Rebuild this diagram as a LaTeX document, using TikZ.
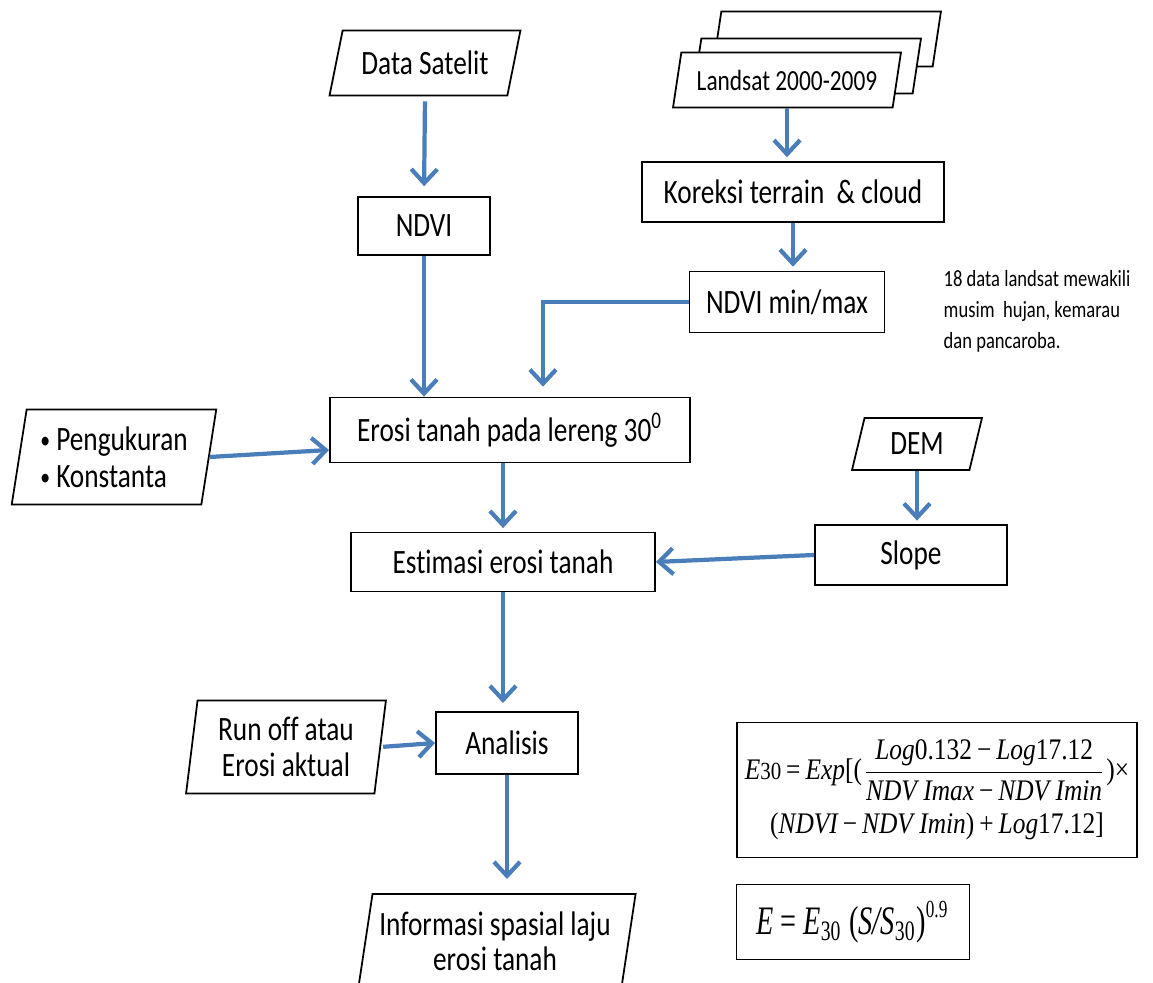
\documentclass[tikz,border=0pt]{standalone}
\usepackage{fontspec}
\setmainfont[FakeStretch=0.8,Ligatures=NoCommon]{Carlito}
\newfontfamily\formfont[FakeStretch=0.85]{Liberation Serif}
\newfontfamily\formfontb[FakeStretch=0.7]{Liberation Serif}
\usetikzlibrary{shapes.geometric,arrows.meta,calc}

\definecolor{flowblue}{RGB}{74,126,187}
\newcommand{\fit}[1]{\mbox{\formfont\itshape #1}}
\newcommand{\fup}[1]{\mbox{\formfont #1}}
\newcommand{\fbit}[1]{\mbox{\formfontb\itshape #1}}
\newcommand{\fbup}[1]{\mbox{\formfontb #1}}
\newcommand{\smallbullet}{\raisebox{0.12ex}{\fontsize{7pt}{7pt}\selectfont\textbullet}}

\tikzset{
  box/.style={draw, rectangle, line width=0.5pt, fill=white, inner sep=0pt},
  io/.style={draw, trapezium, trapezium stretches=true, line width=0.5pt,
    fill=white, inner sep=1pt, align=center},
  flow/.style={draw=flowblue, line width=1.2pt,
    -{Straight Barb[length=1.4mm,width=2.6mm]}},
}

\begin{document}
\begin{tikzpicture}[x=0.01cm, y=-0.01cm, font=\fontsize{9.7pt}{10pt}\selectfont]
  \clip (0,0) rectangle (1153,983);
  \fill[white] (0,0) rectangle (1153,983);

  % Nodes
  \node[io, trapezium left angle=71, trapezium right angle=109,
    minimum width=1.91cm, minimum height=0.65cm] (sat) at (425,63) {Data Satelit};
  \node[box, minimum width=1.32cm, minimum height=0.58cm] (ndvi) at (424,226) {NDVI};

  \node[io, trapezium left angle=75, trapezium right angle=105,
    minimum width=2.29cm, minimum height=0.55cm,
    font=\fontsize{8.3pt}{9pt}\selectfont] (land3) at (827,39) {\phantom{Landsat 2000-2009}};
  \node[io, trapezium left angle=75, trapezium right angle=105,
    minimum width=2.29cm, minimum height=0.55cm,
    font=\fontsize{8.3pt}{9pt}\selectfont] (land2) at (807,66) {\phantom{Landsat 2000-2009}};
  \node[io, trapezium left angle=75, trapezium right angle=105,
    minimum width=2.29cm, minimum height=0.55cm,
    font=\fontsize{8.3pt}{9pt}\selectfont] (land) at (787,80) {Landsat 2000-2009};
  \node[box, minimum width=3.02cm, minimum height=0.60cm] (kor) at (793,192) {Koreksi terrain \ \& cloud};
  \node[box, minimum width=1.95cm, minimum height=0.61cm] (ndvimm) at (787,302) {NDVI min/max};
  \node[anchor=west, align=left, inner sep=0pt, font=\fontsize{6.6pt}{8.8pt}\selectfont] (note) at (943,311)
    {18 data landsat mewakili\\musim \ hujan, kemarau\\dan pancaroba.};

  \node[box, minimum width=3.60cm, minimum height=0.65cm] (erosi) at (510,430) {Erosi tanah pada lereng 30\textsuperscript{0}};
  \node[io, align=left, trapezium left angle=79, trapezium right angle=101,
    minimum width=2.05cm, minimum height=0.95cm] (ukur) at (114,457)
    {\smallbullet\ Pengukuran\\[0.5pt]\smallbullet\ Konstanta};

  \node[io, trapezium left angle=76, trapezium right angle=104,
    minimum width=1.30cm, minimum height=0.52cm] (dem) at (917,444) {DEM};
  \node[box, minimum width=1.92cm, minimum height=0.60cm] (slope) at (911,555) {Slope};
  \node[box, minimum width=3.04cm, minimum height=0.59cm] (est) at (503,562) {Estimasi erosi tanah};

  \node[io, trapezium left angle=82, trapezium right angle=98,
    minimum width=2.00cm, minimum height=0.93cm] (run) at (286,747) {Run off atau\\Erosi aktual};
  \node[box, minimum width=1.42cm, minimum height=0.62cm] (ana) at (507,743) {Analisis};
  \node[io, trapezium left angle=79, trapezium right angle=101,
    minimum width=2.82cm, minimum height=1.20cm, text depth=0.25cm] (info) at (495,954)
    {Informasi spasial laju\\erosi tanah};

  \node[box, minimum width=4.00cm, minimum height=1.35cm, align=center,
    font=\fontsize{8.5pt}{10pt}\selectfont] (rumus1) at (937,790)
    {$\fit{E}\fup{\fontsize{7pt}{8pt}\selectfont 30}\fup{\,=\,}\fit{Exp}\fup{[(}\displaystyle\frac{\fit{Log}\fup{0.132\,−\,}\fit{Log}\fup{17.12}}{\fit{NDV Imax}\fup{\,−\,}\fit{NDV Imin}}\fup{)×}$\\[2.5pt]
     \fup{(}\fit{NDVI}\fup{\,−\,}\fit{NDV Imin}\fup{)\,+\,}\fit{Log}\fup{17.12]}};
  \node[box, minimum width=2.33cm, minimum height=0.75cm,
    font=\fontsize{11.5pt}{14pt}\selectfont] (rumus2) at (853,922)
    {$\fbit{E}\fbup{\,=\,}\fbit{E}_{\fbup{\fontsize{8pt}{9pt}\selectfont 30}}\,\fbup{(}\fbit{S/S}_{\fbup{\fontsize{8pt}{9pt}\selectfont 30}}\fbup{)}^{\fbup{\fontsize{7pt}{8pt}\selectfont 0.9}}$};

  % Edges
  \draw[flow, shorten <=1.4pt, shorten >=2.8pt] (sat.south) -- (ndvi.north);
  \draw[flow] (ndvi.south) -- (ndvi.south |- erosi.north);
  \draw[flow, shorten >=1.1pt] (land.south) -- (land.south |- kor.north);
  \draw[flow, shorten >=1.1pt] (kor.south) -- (kor.south |- ndvimm.north);
  \draw[flow, shorten >=2.8pt] (ndvimm.west) -| ($(erosi.north)+(33,0)$);
  \draw[flow] (ukur.east) -- (erosi.west |- 0,450);
  \draw[flow, shorten >=1pt] (est.north |- erosi.south) -- (est.north);
  \draw[flow, shorten >=1pt] (dem.south) -- (dem.south |- slope.north);
  \draw[flow] (slope.west) -- (est.east);
  \draw[flow, shorten >=2.3pt] (est.south) -- (est.south |- ana.north);
  \draw[flow, shorten <=0.6pt] (run.east) -- (ana.west);
  \draw[flow, shorten >=4pt] (ana.south) -- (ana.south |- info.north);
\end{tikzpicture}
\end{document}
